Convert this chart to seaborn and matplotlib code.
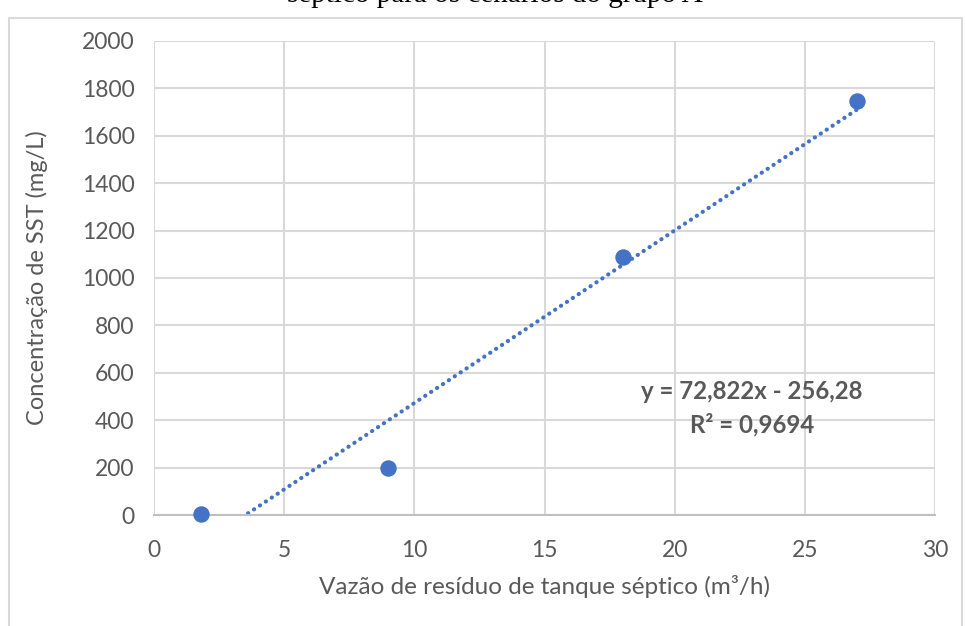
import numpy as np
import pandas as pd
import matplotlib
matplotlib.use("Agg")
import matplotlib.pyplot as plt
import seaborn as sns
from matplotlib.patches import Rectangle

# Data
vazao = [1.8, 9.0, 18.0, 27.0]
sst = [5, 200, 1090, 1745]
x_ticks = [0, 5, 10, 15, 20, 25, 30]
y_ticks = [0, 200, 400, 600, 800, 1000, 1200, 1400, 1600, 1800, 2000]
eq_text = "y = 72,822x - 256,28"
r2_text = "R² = 0,9694"
title_text = "séptico para os cenários do grupo A"
xlabel = "Vazão de resíduo de tanque séptico (m³/h)"
ylabel = "Concentração de SST (mg/L)"

sns.set_theme(style="white")
plt.rcParams['font.family'] = ['Lato', 'DejaVu Sans']

W, H = 966, 626
fig = plt.figure(figsize=(W/100, H/100), dpi=100)
ax = fig.add_axes([154/W, 1-515/H, (935-154)/W, (515-41)/H])

df = pd.DataFrame({"x": vazao, "y": sst})

grid_c = "#d9d9d9"
text_c = "#595959"
blue = "#4472C4"

ax.set_xlim(0, 30)
ax.set_ylim(0, 2000)
ax.set_xticks(x_ticks)
ax.set_yticks(y_ticks)
ax.grid(True, color=grid_c, linewidth=1.5)
ax.set_axisbelow(True)
for s in ["left", "right", "top"]:
    ax.spines[s].set_visible(False)
ax.spines["bottom"].set_color("#bfbfbf")
ax.spines["bottom"].set_linewidth(1.5)
ax.tick_params(axis="both", length=0, labelsize=16.5, labelcolor=text_c)
ax.tick_params(axis="x", pad=18)
ax.tick_params(axis="y", pad=14)

# Trendline
coef = np.polyfit(df["x"], df["y"], 1)
xs = np.linspace(min(vazao), max(vazao), 200)
ax.plot(xs, np.polyval(coef, xs), color=blue, linewidth=3.0,
        linestyle=(0, (0.05, 1.65)), dash_capstyle="round")

sns.scatterplot(data=df, x="x", y="y", ax=ax, color=blue, s=140,
                edgecolor=blue, linewidth=0, clip_on=False, zorder=5)

ax.set_xlabel(xlabel, fontsize=17.5, color=text_c, labelpad=10)
ax.set_ylabel(ylabel, fontsize=17, color=text_c, labelpad=24)

ax.text(22.97, 520, eq_text, fontsize=17.3, fontweight="bold", color=text_c,
        ha="center", va="center")
ax.text(22.97, 380, r2_text, fontsize=17.3, fontweight="bold", color=text_c,
        ha="center", va="center")

# Outer frame
fig.patches.append(Rectangle((9/W, -0.1), (962-9)/W, 1.1-18/H,
                             transform=fig.transFigure, fill=False,
                             edgecolor=grid_c, linewidth=1.5))
# Cut-off title
fig.text(495/W, 1-8/H, title_text, family=["Liberation Serif"], fontsize=21,
         color="black", ha="center", va="bottom")

fig.savefig("out.png", dpi=100)
